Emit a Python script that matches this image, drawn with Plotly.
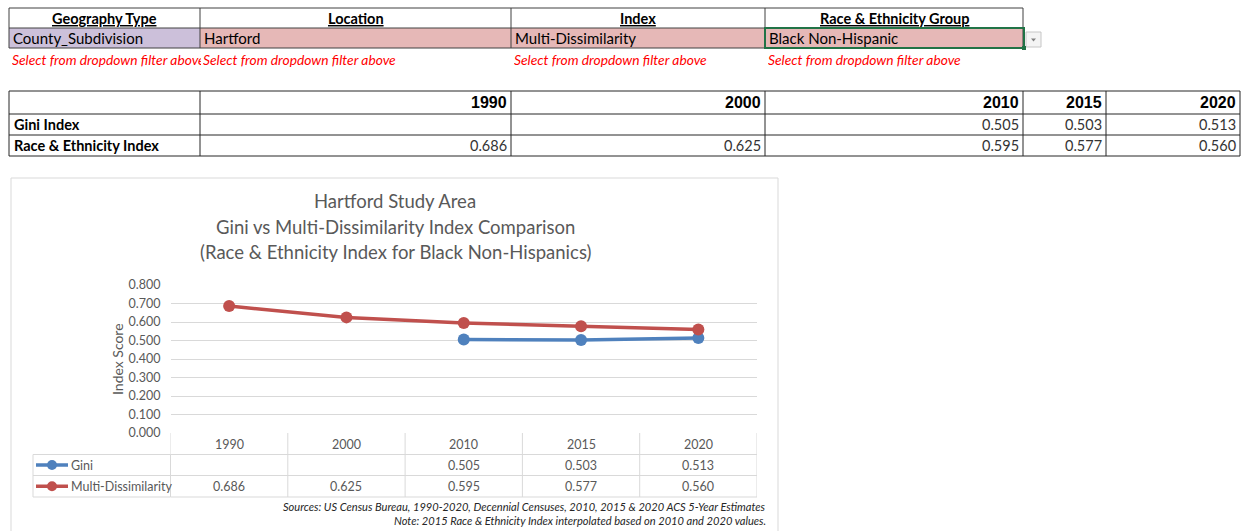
import plotly.graph_objects as go

W, H = 1247, 531

# ---------------- data ----------------
years = ["1990", "2000", "2010", "2015", "2020"]
gini = [None, None, 0.505, 0.503, 0.513]
multi = [0.686, 0.625, 0.595, 0.577, 0.560]
series_names = ["Gini", "Multi-Dissimilarity"]
row_labels = ["Gini Index", "Race & Ethnicity Index"]
filter_headers = ["Geography Type", "Location", "Index", "Race & Ethnicity Group"]
filter_values = ["County_Subdivision", "Hartford", "Multi-Dissimilarity", "Black Non-Hispanic"]
filter_note = "Select from dropdown filter above"
title_lines = ["Hartford Study Area",
               "Gini vs Multi-Dissimilarity Index Comparison",
               "(Race & Ethnicity Index for Black Non-Hispanics)"]
source_lines = ["Sources: US Census Bureau, 1990-2020, Decennial Censuses, 2010, 2015 & 2020 ACS 5-Year Estimates",
                "Note: 2015 Race & Ethnicity Index interpolated based on 2010 and 2020 values."]
y_ticks = [0.0, 0.1, 0.2, 0.3, 0.4, 0.5, 0.6, 0.7, 0.8]

# ---------------- styles ----------------
BLUE = "#4F81BD"
RED = "#C0504D"
GRAY_TXT = "#595959"
GRID = "#D9D9D9"
CAL = "Lato, Carlito, Calibri, sans-serif"
ARIAL = "Liberation Sans, Arial, sans-serif"


def X(px):
    return px / W


def Y(py):
    return 1 - py / H


shapes = []
annotations = []


def rect(x0, y0, x1, y1, fill="rgba(0,0,0,0)", line=None, lw=1, layer="below"):
    shapes.append(dict(type="rect", xref="paper", yref="paper",
                       x0=X(x0), x1=X(x1), y0=Y(y1), y1=Y(y0),
                       fillcolor=fill,
                       line=dict(color=line if line else "rgba(0,0,0,0)", width=lw if line else 0),
                       layer=layer))


def seg(x0, y0, x1, y1, color, lw=1, layer="below"):
    shapes.append(dict(type="line", xref="paper", yref="paper",
                       x0=X(x0), x1=X(x1), y0=Y(y0), y1=Y(y1),
                       line=dict(color=color, width=lw), layer=layer))


def text(x, y, s, size=14, color="#000000", family=CAL, xanchor="left", bold=False,
         italic=False, underline=False, width=None, align=None):
    if bold:
        s = "<b>" + s + "</b>"
    if italic:
        s = "<i>" + s + "</i>"
    if underline:
        s = "<u>" + s + "</u>"
    a = dict(xref="paper", yref="paper", x=X(x), y=Y(y), text=s, showarrow=False,
             xanchor=xanchor, yanchor="middle",
             font=dict(size=size, color=color, family=family))
    if width is not None:
        a["width"] = width
        a["align"] = align or "left"
    annotations.append(a)


# ---------------- top filter table ----------------
tcols = [9, 200, 511, 765, 1023]
fills = ["#CCC0DA", "#E6B8B7", "#E6B8B7", "#E6B8B7"]
for i in range(4):
    rect(tcols[i], 28, tcols[i + 1], 48, fill=fills[i])
BORDER = "#404040"
for yy in (8, 28, 48):
    seg(tcols[0], yy, tcols[-1], yy, BORDER)
for xx in tcols:
    seg(xx, 8, xx, 48, BORDER)
for i, h in enumerate(filter_headers):
    text((tcols[i] + tcols[i + 1]) / 2, 18, h, size=14.5, xanchor="center", bold=True, underline=True)
    text(tcols[i] + 2, 38.5, filter_values[i], size=15)
    note_w = (tcols[i + 1] - tcols[i]) - 2
    text(tcols[i] + 1, 60, filter_note, size=13.8, color="#FF0000", italic=True,
         width=note_w, align="left")
# selected cell highlight
rect(765, 28, 1024, 48, line="#217346", lw=2, layer="above")
rect(1022, 46, 1026, 50, fill="#217346", layer="above")
# dropdown button
rect(1026, 32, 1041, 47, fill="#F4F4F4", line="#C6C6C6")
shapes.append(dict(type="path", xref="paper", yref="paper",
                   path=f"M {X(1031)} {Y(38.5)} L {X(1036)} {Y(38.5)} L {X(1033.5)} {Y(41.5)} Z",
                   fillcolor="#808080", line=dict(width=0), layer="above"))

# ---------------- summary table ----------------
cols2 = [9, 200, 511, 765, 1023, 1106, 1240]
rows2 = [91, 114, 135, 156]
for yy in rows2:
    seg(cols2[0], yy, cols2[-1], yy, "#262626")
for xx in cols2:
    seg(xx, rows2[0], xx, rows2[-1], "#262626")
for j, yr in enumerate(years):
    text(cols2[j + 2] - 2, 102.5, yr, size=16, family=ARIAL, xanchor="right", bold=True)
for r, lab in enumerate(row_labels):
    text(cols2[0] + 3, 124.5 + r * 21, lab, size=14.5, bold=True)
for r, vals in enumerate([gini, multi]):
    for j, v in enumerate(vals):
        if v is not None:
            text(cols2[j + 2] - 2, 124.5 + r * 21, f"{v:.3f}", size=14.5,
                 color="#333333", xanchor="right")

# ---------------- chart frame ----------------
rect(11, 178, 778, 545, fill="#FFFFFF", line="#D9D9D9", lw=1)
for k, t in enumerate(title_lines):
    text(395, 201 + k * 25.5, t, size=18.5, color=GRAY_TXT, xanchor="center")
annotations.append(dict(xref="paper", yref="paper", x=X(117), y=Y(359), text="Index Score",
                        textangle=-90, showarrow=False, xanchor="center", yanchor="middle",
                        font=dict(size=14, color=GRAY_TXT, family=CAL)))

PX0, PX1 = 170.5, 757
PY0, PY1 = 285, 433

fig = go.Figure()
fig.add_trace(go.Scatter(x=years, y=gini, name=series_names[0], mode="lines+markers",
                         line=dict(color=BLUE, width=3.5), marker=dict(size=12, color=BLUE),
                         connectgaps=False, showlegend=False))
fig.add_trace(go.Scatter(x=years, y=multi, name=series_names[1], mode="lines+markers",
                         line=dict(color=RED, width=3.5), marker=dict(size=12, color=RED),
                         showlegend=False))

# data table under the chart (uses x axis category indices)
TBL = "#D9D9D9"
trow = [433, 454.5, 475.5, 497]
for yy in trow[1:]:
    shapes.append(dict(type="line", xref="x", yref="paper", x0=-0.5, x1=len(years) - 0.5,
                       y0=Y(yy), y1=Y(yy), line=dict(color=TBL, width=1), layer="below"))
for i in range(len(years) + 1):
    shapes.append(dict(type="line", xref="x", yref="paper", x0=i - 0.5, x1=i - 0.5,
                       y0=Y(trow[0]), y1=Y(trow[-1]), line=dict(color=TBL, width=1), layer="below"))
# legend column box
rect(33, trow[1], PX0, trow[3], line=TBL, lw=1)
seg(33, trow[2], PX0, trow[2], TBL)
for j, yr in enumerate(years):
    annotations.append(dict(xref="x", yref="paper", x=j, y=Y(444), text=yr, showarrow=False,
                            xanchor="center", yanchor="middle",
                            font=dict(size=12.5, color=GRAY_TXT, family=CAL)))
for r, (vals, col, nm) in enumerate(zip([gini, multi], [BLUE, RED], series_names)):
    yc = (trow[r + 1] + trow[r + 2]) / 2
    for j, v in enumerate(vals):
        if v is not None:
            annotations.append(dict(xref="x", yref="paper", x=j, y=Y(yc), text=f"{v:.3f}",
                                    showarrow=False, xanchor="center", yanchor="middle",
                                    font=dict(size=12.5, color=GRAY_TXT, family=CAL)))
    # legend key
    seg(36, yc, 68, yc, col, lw=3.5, layer="above")
    shapes.append(dict(type="circle", xref="paper", yref="paper",
                       x0=X(47), x1=X(57), y0=Y(yc + 5), y1=Y(yc - 5),
                       fillcolor=col, line=dict(width=0), layer="above"))
    text(69, yc, nm, size=12.5, color=GRAY_TXT)

for k, s in enumerate(source_lines):
    text(768, 506.5 + k * 13.5, s, size=11.1, color="#262626", xanchor="right", italic=True)

fig.update_layout(
    width=W, height=H,
    margin=dict(l=0, r=0, t=0, b=0, pad=0, autoexpand=False),
    paper_bgcolor="#FFFFFF", plot_bgcolor="rgba(0,0,0,0)",
    shapes=shapes, annotations=annotations,
    xaxis=dict(domain=[X(PX0), X(PX1)], type="category", range=[-0.5, len(years) - 0.5],
               showticklabels=False, showgrid=False, zeroline=False, showline=False, ticks="",
               automargin=False),
    yaxis=dict(domain=[Y(PY1), Y(PY0)], range=[0, 0.8], tickvals=y_ticks, tickformat=".3f",
               showgrid=True, gridcolor=GRID, gridwidth=1, zeroline=False, showline=False,
               ticks="", tickfont=dict(size=12.5, color=GRAY_TXT, family=CAL), ticklabelstandoff=9,
               automargin=False),
    showlegend=False,
)

post = ("document.documentElement.style.margin='0';document.documentElement.style.padding='0';"
        "document.documentElement.style.overflow='hidden';"
        "document.body.style.margin='0';document.body.style.padding='0';document.body.style.overflow='hidden';"
        "var gd=document.getElementById('{plot_id}');gd.style.position='fixed';gd.style.top='0px';gd.style.left='0px';")
fig.write_html("out.html", config={"displayModeBar": False}, post_script=post)
